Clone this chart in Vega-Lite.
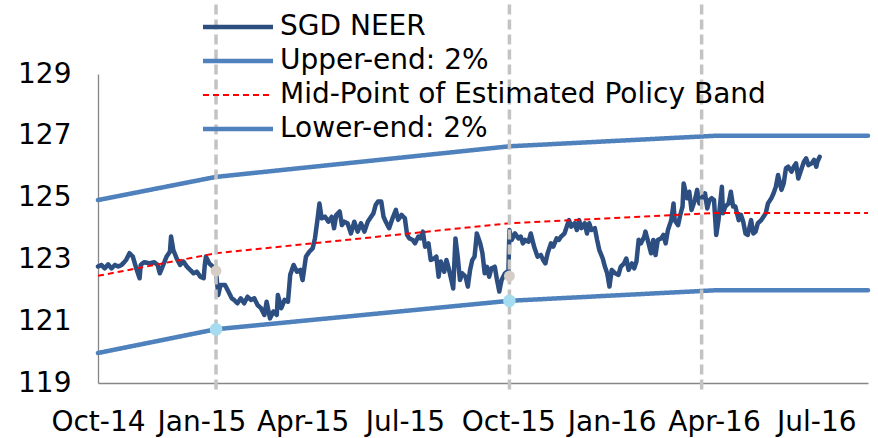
{
  "$schema": "https://vega.github.io/schema/vega-lite/v6.json",
  "width": 770,
  "height": 309,
  "autosize": {"type": "none"},
  "padding": {"left": 98, "top": 74, "right": 10, "bottom": 55},
  "background": "white",
  "config": {
    "view": {"stroke": null},
    "font": "DejaVu Sans",
    "axis": {"labelFont": "DejaVu Sans", "labelFontSize": 28, "labelColor": "#000000", "grid": false, "ticks": false, "domainColor": "#868686", "domainWidth": 1.3, "title": null},
    "legend": {
      "orient": "none",
      "legendX": 126,
      "legendY": -61,
      "padding": 0,
      "title": null,
      "symbolType": "M-5,0H5",
      "symbolSize": 196,
      "symbolStrokeWidth": 4.5,
      "symbolOffset": 0,
      "labelOffset": 28,
      "rowPadding": 6,
      "labelFont": "DejaVu Sans",
      "labelFontSize": 28,
      "labelColor": "#000000",
      "labelLimit": 800
    }
  },
  "datasets": {
    "lines": [
      {"date": "2014-10-01", "value": 122.77, "series": "SGD NEER"},
      {"date": "2014-10-04", "value": 122.82, "series": "SGD NEER"},
      {"date": "2014-10-07", "value": 122.71, "series": "SGD NEER"},
      {"date": "2014-10-10", "value": 122.84, "series": "SGD NEER"},
      {"date": "2014-10-13", "value": 122.71, "series": "SGD NEER"},
      {"date": "2014-10-16", "value": 122.82, "series": "SGD NEER"},
      {"date": "2014-10-19", "value": 122.77, "series": "SGD NEER"},
      {"date": "2014-10-22", "value": 122.82, "series": "SGD NEER"},
      {"date": "2014-10-26", "value": 122.98, "series": "SGD NEER"},
      {"date": "2014-10-29", "value": 123.20, "series": "SGD NEER"},
      {"date": "2014-11-01", "value": 123.09, "series": "SGD NEER"},
      {"date": "2014-11-04", "value": 122.71, "series": "SGD NEER"},
      {"date": "2014-11-07", "value": 122.39, "series": "SGD NEER"},
      {"date": "2014-11-08", "value": 122.82, "series": "SGD NEER"},
      {"date": "2014-11-11", "value": 122.91, "series": "SGD NEER"},
      {"date": "2014-11-16", "value": 122.87, "series": "SGD NEER"},
      {"date": "2014-11-20", "value": 122.91, "series": "SGD NEER"},
      {"date": "2014-11-23", "value": 122.82, "series": "SGD NEER"},
      {"date": "2014-11-25", "value": 122.55, "series": "SGD NEER"},
      {"date": "2014-11-28", "value": 122.82, "series": "SGD NEER"},
      {"date": "2014-12-01", "value": 123.09, "series": "SGD NEER"},
      {"date": "2014-12-04", "value": 123.25, "series": "SGD NEER"},
      {"date": "2014-12-05", "value": 123.74, "series": "SGD NEER"},
      {"date": "2014-12-07", "value": 123.30, "series": "SGD NEER"},
      {"date": "2014-12-10", "value": 123.03, "series": "SGD NEER"},
      {"date": "2014-12-13", "value": 122.82, "series": "SGD NEER"},
      {"date": "2014-12-16", "value": 122.93, "series": "SGD NEER"},
      {"date": "2014-12-19", "value": 122.77, "series": "SGD NEER"},
      {"date": "2014-12-22", "value": 122.66, "series": "SGD NEER"},
      {"date": "2014-12-25", "value": 122.55, "series": "SGD NEER"},
      {"date": "2014-12-28", "value": 122.60, "series": "SGD NEER"},
      {"date": "2014-12-31", "value": 122.44, "series": "SGD NEER"},
      {"date": "2015-01-03", "value": 122.39, "series": "SGD NEER"},
      {"date": "2015-01-04", "value": 122.82, "series": "SGD NEER"},
      {"date": "2015-01-05", "value": 123.09, "series": "SGD NEER"},
      {"date": "2015-01-08", "value": 122.87, "series": "SGD NEER"},
      {"date": "2015-01-11", "value": 122.77, "series": "SGD NEER"},
      {"date": "2015-01-14", "value": 122.60, "series": "SGD NEER"},
      {"date": "2015-01-16", "value": 121.85, "series": "SGD NEER"},
      {"date": "2015-01-18", "value": 122.17, "series": "SGD NEER"},
      {"date": "2015-01-22", "value": 122.17, "series": "SGD NEER"},
      {"date": "2015-01-25", "value": 121.96, "series": "SGD NEER"},
      {"date": "2015-01-28", "value": 121.74, "series": "SGD NEER"},
      {"date": "2015-01-30", "value": 121.69, "series": "SGD NEER"},
      {"date": "2015-02-02", "value": 121.58, "series": "SGD NEER"},
      {"date": "2015-02-05", "value": 121.74, "series": "SGD NEER"},
      {"date": "2015-02-08", "value": 121.58, "series": "SGD NEER"},
      {"date": "2015-02-11", "value": 121.79, "series": "SGD NEER"},
      {"date": "2015-02-14", "value": 121.69, "series": "SGD NEER"},
      {"date": "2015-02-17", "value": 121.74, "series": "SGD NEER"},
      {"date": "2015-02-20", "value": 121.52, "series": "SGD NEER"},
      {"date": "2015-02-23", "value": 121.42, "series": "SGD NEER"},
      {"date": "2015-02-26", "value": 121.20, "series": "SGD NEER"},
      {"date": "2015-02-28", "value": 121.63, "series": "SGD NEER"},
      {"date": "2015-03-03", "value": 121.09, "series": "SGD NEER"},
      {"date": "2015-03-06", "value": 121.31, "series": "SGD NEER"},
      {"date": "2015-03-09", "value": 121.20, "series": "SGD NEER"},
      {"date": "2015-03-10", "value": 121.85, "series": "SGD NEER"},
      {"date": "2015-03-13", "value": 121.42, "series": "SGD NEER"},
      {"date": "2015-03-16", "value": 121.69, "series": "SGD NEER"},
      {"date": "2015-03-19", "value": 121.63, "series": "SGD NEER"},
      {"date": "2015-03-21", "value": 122.50, "series": "SGD NEER"},
      {"date": "2015-03-24", "value": 122.82, "series": "SGD NEER"},
      {"date": "2015-03-27", "value": 122.60, "series": "SGD NEER"},
      {"date": "2015-03-30", "value": 122.66, "series": "SGD NEER"},
      {"date": "2015-04-01", "value": 122.33, "series": "SGD NEER"},
      {"date": "2015-04-04", "value": 123.09, "series": "SGD NEER"},
      {"date": "2015-04-07", "value": 123.25, "series": "SGD NEER"},
      {"date": "2015-04-10", "value": 123.36, "series": "SGD NEER"},
      {"date": "2015-04-12", "value": 123.68, "series": "SGD NEER"},
      {"date": "2015-04-14", "value": 124.22, "series": "SGD NEER"},
      {"date": "2015-04-16", "value": 124.81, "series": "SGD NEER"},
      {"date": "2015-04-18", "value": 124.33, "series": "SGD NEER"},
      {"date": "2015-04-21", "value": 124.38, "series": "SGD NEER"},
      {"date": "2015-04-24", "value": 124.22, "series": "SGD NEER"},
      {"date": "2015-04-27", "value": 124.38, "series": "SGD NEER"},
      {"date": "2015-04-29", "value": 124.01, "series": "SGD NEER"},
      {"date": "2015-05-01", "value": 124.44, "series": "SGD NEER"},
      {"date": "2015-05-04", "value": 124.55, "series": "SGD NEER"},
      {"date": "2015-05-06", "value": 124.11, "series": "SGD NEER"},
      {"date": "2015-05-08", "value": 124.22, "series": "SGD NEER"},
      {"date": "2015-05-11", "value": 124.17, "series": "SGD NEER"},
      {"date": "2015-05-14", "value": 123.84, "series": "SGD NEER"},
      {"date": "2015-05-17", "value": 124.22, "series": "SGD NEER"},
      {"date": "2015-05-20", "value": 123.90, "series": "SGD NEER"},
      {"date": "2015-05-23", "value": 124.17, "series": "SGD NEER"},
      {"date": "2015-05-26", "value": 123.90, "series": "SGD NEER"},
      {"date": "2015-05-29", "value": 124.22, "series": "SGD NEER"},
      {"date": "2015-05-31", "value": 124.33, "series": "SGD NEER"},
      {"date": "2015-06-03", "value": 124.49, "series": "SGD NEER"},
      {"date": "2015-06-05", "value": 124.76, "series": "SGD NEER"},
      {"date": "2015-06-07", "value": 124.87, "series": "SGD NEER"},
      {"date": "2015-06-10", "value": 124.87, "series": "SGD NEER"},
      {"date": "2015-06-12", "value": 124.38, "series": "SGD NEER"},
      {"date": "2015-06-14", "value": 124.22, "series": "SGD NEER"},
      {"date": "2015-06-17", "value": 124.01, "series": "SGD NEER"},
      {"date": "2015-06-20", "value": 124.33, "series": "SGD NEER"},
      {"date": "2015-06-23", "value": 124.60, "series": "SGD NEER"},
      {"date": "2015-06-25", "value": 124.28, "series": "SGD NEER"},
      {"date": "2015-06-28", "value": 124.44, "series": "SGD NEER"},
      {"date": "2015-07-01", "value": 124.33, "series": "SGD NEER"},
      {"date": "2015-07-03", "value": 123.79, "series": "SGD NEER"},
      {"date": "2015-07-05", "value": 123.68, "series": "SGD NEER"},
      {"date": "2015-07-08", "value": 123.63, "series": "SGD NEER"},
      {"date": "2015-07-10", "value": 123.52, "series": "SGD NEER"},
      {"date": "2015-07-13", "value": 123.74, "series": "SGD NEER"},
      {"date": "2015-07-15", "value": 123.68, "series": "SGD NEER"},
      {"date": "2015-07-17", "value": 123.90, "series": "SGD NEER"},
      {"date": "2015-07-19", "value": 123.41, "series": "SGD NEER"},
      {"date": "2015-07-22", "value": 123.52, "series": "SGD NEER"},
      {"date": "2015-07-24", "value": 122.98, "series": "SGD NEER"},
      {"date": "2015-07-27", "value": 123.03, "series": "SGD NEER"},
      {"date": "2015-07-29", "value": 123.09, "series": "SGD NEER"},
      {"date": "2015-07-31", "value": 122.44, "series": "SGD NEER"},
      {"date": "2015-08-02", "value": 122.93, "series": "SGD NEER"},
      {"date": "2015-08-05", "value": 122.60, "series": "SGD NEER"},
      {"date": "2015-08-07", "value": 122.98, "series": "SGD NEER"},
      {"date": "2015-08-09", "value": 122.71, "series": "SGD NEER"},
      {"date": "2015-08-11", "value": 122.39, "series": "SGD NEER"},
      {"date": "2015-08-13", "value": 122.06, "series": "SGD NEER"},
      {"date": "2015-08-15", "value": 123.68, "series": "SGD NEER"},
      {"date": "2015-08-17", "value": 123.09, "series": "SGD NEER"},
      {"date": "2015-08-19", "value": 122.33, "series": "SGD NEER"},
      {"date": "2015-08-21", "value": 122.55, "series": "SGD NEER"},
      {"date": "2015-08-24", "value": 122.44, "series": "SGD NEER"},
      {"date": "2015-08-26", "value": 122.12, "series": "SGD NEER"},
      {"date": "2015-08-28", "value": 122.66, "series": "SGD NEER"},
      {"date": "2015-08-30", "value": 122.98, "series": "SGD NEER"},
      {"date": "2015-09-01", "value": 123.09, "series": "SGD NEER"},
      {"date": "2015-09-03", "value": 123.84, "series": "SGD NEER"},
      {"date": "2015-09-06", "value": 123.52, "series": "SGD NEER"},
      {"date": "2015-09-08", "value": 123.20, "series": "SGD NEER"},
      {"date": "2015-09-10", "value": 122.55, "series": "SGD NEER"},
      {"date": "2015-09-12", "value": 122.76, "series": "SGD NEER"},
      {"date": "2015-09-14", "value": 122.44, "series": "SGD NEER"},
      {"date": "2015-09-16", "value": 122.71, "series": "SGD NEER"},
      {"date": "2015-09-19", "value": 122.76, "series": "SGD NEER"},
      {"date": "2015-09-21", "value": 122.33, "series": "SGD NEER"},
      {"date": "2015-09-23", "value": 121.96, "series": "SGD NEER"},
      {"date": "2015-09-25", "value": 122.33, "series": "SGD NEER"},
      {"date": "2015-09-28", "value": 122.55, "series": "SGD NEER"},
      {"date": "2015-09-30", "value": 122.60, "series": "SGD NEER"},
      {"date": "2015-10-01", "value": 122.45, "series": "SGD NEER"},
      {"date": "2015-10-02", "value": 123.95, "series": "SGD NEER"},
      {"date": "2015-10-04", "value": 123.63, "series": "SGD NEER"},
      {"date": "2015-10-07", "value": 123.84, "series": "SGD NEER"},
      {"date": "2015-10-10", "value": 123.68, "series": "SGD NEER"},
      {"date": "2015-10-12", "value": 123.74, "series": "SGD NEER"},
      {"date": "2015-10-14", "value": 123.52, "series": "SGD NEER"},
      {"date": "2015-10-16", "value": 123.63, "series": "SGD NEER"},
      {"date": "2015-10-19", "value": 123.57, "series": "SGD NEER"},
      {"date": "2015-10-21", "value": 123.84, "series": "SGD NEER"},
      {"date": "2015-10-24", "value": 123.41, "series": "SGD NEER"},
      {"date": "2015-10-27", "value": 123.09, "series": "SGD NEER"},
      {"date": "2015-10-30", "value": 123.14, "series": "SGD NEER"},
      {"date": "2015-11-01", "value": 122.98, "series": "SGD NEER"},
      {"date": "2015-11-03", "value": 122.87, "series": "SGD NEER"},
      {"date": "2015-11-05", "value": 123.20, "series": "SGD NEER"},
      {"date": "2015-11-08", "value": 123.52, "series": "SGD NEER"},
      {"date": "2015-11-10", "value": 123.41, "series": "SGD NEER"},
      {"date": "2015-11-13", "value": 123.68, "series": "SGD NEER"},
      {"date": "2015-11-15", "value": 123.63, "series": "SGD NEER"},
      {"date": "2015-11-17", "value": 123.74, "series": "SGD NEER"},
      {"date": "2015-11-20", "value": 123.84, "series": "SGD NEER"},
      {"date": "2015-11-22", "value": 124.06, "series": "SGD NEER"},
      {"date": "2015-11-24", "value": 124.27, "series": "SGD NEER"},
      {"date": "2015-11-26", "value": 124.06, "series": "SGD NEER"},
      {"date": "2015-11-29", "value": 124.17, "series": "SGD NEER"},
      {"date": "2015-12-01", "value": 123.95, "series": "SGD NEER"},
      {"date": "2015-12-03", "value": 124.27, "series": "SGD NEER"},
      {"date": "2015-12-05", "value": 124.01, "series": "SGD NEER"},
      {"date": "2015-12-08", "value": 124.17, "series": "SGD NEER"},
      {"date": "2015-12-10", "value": 123.84, "series": "SGD NEER"},
      {"date": "2015-12-12", "value": 124.17, "series": "SGD NEER"},
      {"date": "2015-12-14", "value": 123.95, "series": "SGD NEER"},
      {"date": "2015-12-17", "value": 124.01, "series": "SGD NEER"},
      {"date": "2015-12-19", "value": 123.63, "series": "SGD NEER"},
      {"date": "2015-12-21", "value": 123.30, "series": "SGD NEER"},
      {"date": "2015-12-24", "value": 123.03, "series": "SGD NEER"},
      {"date": "2015-12-26", "value": 122.76, "series": "SGD NEER"},
      {"date": "2015-12-28", "value": 122.55, "series": "SGD NEER"},
      {"date": "2015-12-30", "value": 122.12, "series": "SGD NEER"},
      {"date": "2016-01-01", "value": 122.66, "series": "SGD NEER"},
      {"date": "2016-01-04", "value": 122.55, "series": "SGD NEER"},
      {"date": "2016-01-07", "value": 122.50, "series": "SGD NEER"},
      {"date": "2016-01-09", "value": 122.76, "series": "SGD NEER"},
      {"date": "2016-01-12", "value": 122.87, "series": "SGD NEER"},
      {"date": "2016-01-14", "value": 123.03, "series": "SGD NEER"},
      {"date": "2016-01-16", "value": 122.66, "series": "SGD NEER"},
      {"date": "2016-01-19", "value": 122.87, "series": "SGD NEER"},
      {"date": "2016-01-21", "value": 122.71, "series": "SGD NEER"},
      {"date": "2016-01-23", "value": 122.93, "series": "SGD NEER"},
      {"date": "2016-01-25", "value": 123.63, "series": "SGD NEER"},
      {"date": "2016-01-27", "value": 123.52, "series": "SGD NEER"},
      {"date": "2016-01-30", "value": 123.74, "series": "SGD NEER"},
      {"date": "2016-01-31", "value": 123.90, "series": "SGD NEER"},
      {"date": "2016-02-02", "value": 123.63, "series": "SGD NEER"},
      {"date": "2016-02-05", "value": 123.20, "series": "SGD NEER"},
      {"date": "2016-02-07", "value": 123.63, "series": "SGD NEER"},
      {"date": "2016-02-09", "value": 123.14, "series": "SGD NEER"},
      {"date": "2016-02-11", "value": 123.63, "series": "SGD NEER"},
      {"date": "2016-02-14", "value": 123.68, "series": "SGD NEER"},
      {"date": "2016-02-16", "value": 123.79, "series": "SGD NEER"},
      {"date": "2016-02-18", "value": 123.52, "series": "SGD NEER"},
      {"date": "2016-02-20", "value": 123.95, "series": "SGD NEER"},
      {"date": "2016-02-23", "value": 124.27, "series": "SGD NEER"},
      {"date": "2016-02-25", "value": 124.81, "series": "SGD NEER"},
      {"date": "2016-02-26", "value": 124.27, "series": "SGD NEER"},
      {"date": "2016-02-29", "value": 124.11, "series": "SGD NEER"},
      {"date": "2016-03-02", "value": 124.44, "series": "SGD NEER"},
      {"date": "2016-03-04", "value": 124.71, "series": "SGD NEER"},
      {"date": "2016-03-05", "value": 125.46, "series": "SGD NEER"},
      {"date": "2016-03-08", "value": 124.98, "series": "SGD NEER"},
      {"date": "2016-03-10", "value": 125.19, "series": "SGD NEER"},
      {"date": "2016-03-12", "value": 124.60, "series": "SGD NEER"},
      {"date": "2016-03-15", "value": 124.92, "series": "SGD NEER"},
      {"date": "2016-03-17", "value": 125.25, "series": "SGD NEER"},
      {"date": "2016-03-19", "value": 124.81, "series": "SGD NEER"},
      {"date": "2016-03-21", "value": 124.98, "series": "SGD NEER"},
      {"date": "2016-03-24", "value": 125.14, "series": "SGD NEER"},
      {"date": "2016-03-26", "value": 124.65, "series": "SGD NEER"},
      {"date": "2016-03-28", "value": 124.92, "series": "SGD NEER"},
      {"date": "2016-03-30", "value": 124.98, "series": "SGD NEER"},
      {"date": "2016-04-01", "value": 124.92, "series": "SGD NEER"},
      {"date": "2016-04-03", "value": 123.79, "series": "SGD NEER"},
      {"date": "2016-04-05", "value": 124.27, "series": "SGD NEER"},
      {"date": "2016-04-08", "value": 125.35, "series": "SGD NEER"},
      {"date": "2016-04-09", "value": 124.49, "series": "SGD NEER"},
      {"date": "2016-04-11", "value": 124.71, "series": "SGD NEER"},
      {"date": "2016-04-14", "value": 124.81, "series": "SGD NEER"},
      {"date": "2016-04-16", "value": 125.19, "series": "SGD NEER"},
      {"date": "2016-04-18", "value": 124.71, "series": "SGD NEER"},
      {"date": "2016-04-20", "value": 124.71, "series": "SGD NEER"},
      {"date": "2016-04-23", "value": 124.27, "series": "SGD NEER"},
      {"date": "2016-04-25", "value": 124.44, "series": "SGD NEER"},
      {"date": "2016-04-27", "value": 124.22, "series": "SGD NEER"},
      {"date": "2016-04-29", "value": 123.84, "series": "SGD NEER"},
      {"date": "2016-05-01", "value": 123.79, "series": "SGD NEER"},
      {"date": "2016-05-04", "value": 124.27, "series": "SGD NEER"},
      {"date": "2016-05-06", "value": 123.84, "series": "SGD NEER"},
      {"date": "2016-05-08", "value": 123.90, "series": "SGD NEER"},
      {"date": "2016-05-10", "value": 124.17, "series": "SGD NEER"},
      {"date": "2016-05-13", "value": 124.27, "series": "SGD NEER"},
      {"date": "2016-05-15", "value": 124.38, "series": "SGD NEER"},
      {"date": "2016-05-17", "value": 124.49, "series": "SGD NEER"},
      {"date": "2016-05-19", "value": 124.81, "series": "SGD NEER"},
      {"date": "2016-05-22", "value": 124.98, "series": "SGD NEER"},
      {"date": "2016-05-24", "value": 125.14, "series": "SGD NEER"},
      {"date": "2016-05-26", "value": 125.35, "series": "SGD NEER"},
      {"date": "2016-05-28", "value": 125.73, "series": "SGD NEER"},
      {"date": "2016-05-31", "value": 125.25, "series": "SGD NEER"},
      {"date": "2016-06-02", "value": 125.46, "series": "SGD NEER"},
      {"date": "2016-06-04", "value": 125.95, "series": "SGD NEER"},
      {"date": "2016-06-06", "value": 126.00, "series": "SGD NEER"},
      {"date": "2016-06-09", "value": 125.84, "series": "SGD NEER"},
      {"date": "2016-06-11", "value": 126.00, "series": "SGD NEER"},
      {"date": "2016-06-13", "value": 126.11, "series": "SGD NEER"},
      {"date": "2016-06-15", "value": 125.62, "series": "SGD NEER"},
      {"date": "2016-06-18", "value": 125.95, "series": "SGD NEER"},
      {"date": "2016-06-20", "value": 126.16, "series": "SGD NEER"},
      {"date": "2016-06-22", "value": 126.27, "series": "SGD NEER"},
      {"date": "2016-06-24", "value": 126.05, "series": "SGD NEER"},
      {"date": "2016-06-27", "value": 126.11, "series": "SGD NEER"},
      {"date": "2016-06-29", "value": 126.22, "series": "SGD NEER"},
      {"date": "2016-07-01", "value": 126.00, "series": "SGD NEER"},
      {"date": "2016-07-02", "value": 126.16, "series": "SGD NEER"},
      {"date": "2016-07-04", "value": 126.32, "series": "SGD NEER"},
      {"date": "2014-10-01", "value": 124.92, "series": "Upper-end: 2%"},
      {"date": "2015-01-14", "value": 125.67, "series": "Upper-end: 2%"},
      {"date": "2015-10-02", "value": 126.66, "series": "Upper-end: 2%"},
      {"date": "2016-04-02", "value": 127.0, "series": "Upper-end: 2%"},
      {"date": "2016-08-16", "value": 127.0, "series": "Upper-end: 2%"},
      {"date": "2014-10-01", "value": 122.47, "series": "Mid-Point of Estimated Policy Band"},
      {"date": "2015-01-14", "value": 123.2, "series": "Mid-Point of Estimated Policy Band"},
      {"date": "2015-10-02", "value": 124.17, "series": "Mid-Point of Estimated Policy Band"},
      {"date": "2016-04-02", "value": 124.5, "series": "Mid-Point of Estimated Policy Band"},
      {"date": "2016-08-16", "value": 124.5, "series": "Mid-Point of Estimated Policy Band"},
      {"date": "2014-10-01", "value": 119.97, "series": "Lower-end: 2%"},
      {"date": "2015-01-14", "value": 120.74, "series": "Lower-end: 2%"},
      {"date": "2015-10-02", "value": 121.66, "series": "Lower-end: 2%"},
      {"date": "2016-04-02", "value": 122.0, "series": "Lower-end: 2%"},
      {"date": "2016-08-16", "value": 122.0, "series": "Lower-end: 2%"}
    ],
    "events": [
      {"date": "2015-01-14"},
      {"date": "2015-10-02"},
      {"date": "2016-03-21"}
    ],
    "dots": [
      {"date": "2015-01-14", "value": 122.63, "kind": "NEER"},
      {"date": "2015-10-02", "value": 122.46, "kind": "NEER"},
      {"date": "2015-01-14", "value": 120.74, "kind": "Band"},
      {"date": "2015-10-02", "value": 121.66, "kind": "Band"}
    ]
  },
  "layer": [
    {
      "data": {"name": "lines"},
      "transform": [{"filter": "datum.series === 'Upper-end: 2%' || datum.series === 'Lower-end: 2%'"}],
      "mark": {"type": "line", "strokeWidth": 4.5, "strokeCap": "round", "strokeJoin": "round"},
      "encoding": {
        "x": {
          "field": "date", "type": "temporal",
          "scale": {"type": "utc", "domain": [{"year": 2014, "month": 10, "date": 1, "utc": true}, {"year": 2016, "month": 8, "date": 16, "utc": true}]},
          "axis": {
            "labelExpr": "utcFormat(datum.value, '%b-%y')", "labelFlush": false, "labelOverlap": false, "labelPadding": 25,
            "values": [
              {"year": 2014, "month": 10, "date": 1, "utc": true},
              {"year": 2015, "month": 1, "date": 1, "utc": true},
              {"year": 2015, "month": 4, "date": 1, "utc": true},
              {"year": 2015, "month": 7, "date": 1, "utc": true},
              {"year": 2015, "month": 10, "date": 1, "utc": true},
              {"year": 2016, "month": 1, "date": 1, "utc": true},
              {"year": 2016, "month": 4, "date": 1, "utc": true},
              {"year": 2016, "month": 7, "date": 1, "utc": true}
            ]
          }
        },
        "y": {
          "field": "value", "type": "quantitative",
          "scale": {"domain": [119, 129], "nice": false, "zero": false},
          "axis": {"values": [119, 121, 123, 125, 127, 129], "labelPadding": 27}
        },
        "color": {
          "field": "series", "type": "nominal",
          "scale": {"domain": ["SGD NEER", "Upper-end: 2%", "Mid-Point of Estimated Policy Band", "Lower-end: 2%"], "range": ["#2c4e80", "#4f81bd", "#ff0000", "#4f81bd"]},
          "legend": {"encode": {"symbols": {"update": {"strokeWidth": {"signal": "datum.value === 'Mid-Point of Estimated Policy Band' ? 2 : 4.5"}}}}}
        },
        "strokeDash": {
          "field": "series", "type": "nominal",
          "scale": {"domain": ["SGD NEER", "Upper-end: 2%", "Mid-Point of Estimated Policy Band", "Lower-end: 2%"], "range": [[1, 0], [1, 0], [6, 4], [1, 0]]}
        }
      }
    },
    {
      "data": {"name": "lines"},
      "transform": [{"filter": "datum.series === 'SGD NEER'"}],
      "mark": {"type": "line", "strokeWidth": 4.5, "strokeCap": "round", "strokeJoin": "round"},
      "encoding": {
        "x": {"field": "date", "type": "temporal"},
        "y": {"field": "value", "type": "quantitative"},
        "color": {"field": "series", "type": "nominal"},
        "strokeDash": {"field": "series", "type": "nominal"}
      }
    },
    {
      "data": {"name": "lines"},
      "transform": [{"filter": "datum.series === 'Mid-Point of Estimated Policy Band'"}],
      "mark": {"type": "line", "strokeWidth": 2},
      "encoding": {
        "x": {"field": "date", "type": "temporal"},
        "y": {"field": "value", "type": "quantitative"},
        "color": {"field": "series", "type": "nominal"},
        "strokeDash": {"field": "series", "type": "nominal"}
      }
    },
    {
      "data": {"name": "events"},
      "mark": {"type": "rule", "color": "#c3c3c3", "strokeWidth": 3.5, "strokeDash": [10, 5]},
      "encoding": {
        "x": {"field": "date", "type": "temporal"},
        "y": {"datum": 131.25},
        "y2": {"datum": 118.72}
      }
    },
    {
      "data": {"name": "dots"},
      "transform": [{"filter": "datum.kind === 'NEER'"}],
      "mark": {"type": "point", "filled": true, "opacity": 1, "color": "#d6cec6", "size": 120},
      "encoding": {
        "x": {"field": "date", "type": "temporal"},
        "y": {"field": "value", "type": "quantitative"}
      }
    },
    {
      "data": {"name": "dots"},
      "transform": [{"filter": "datum.kind === 'Band'"}],
      "mark": {"type": "point", "filled": true, "opacity": 1, "color": "#a5dcef", "size": 160},
      "encoding": {
        "x": {"field": "date", "type": "temporal"},
        "y": {"field": "value", "type": "quantitative"}
      }
    }
  ]
}
